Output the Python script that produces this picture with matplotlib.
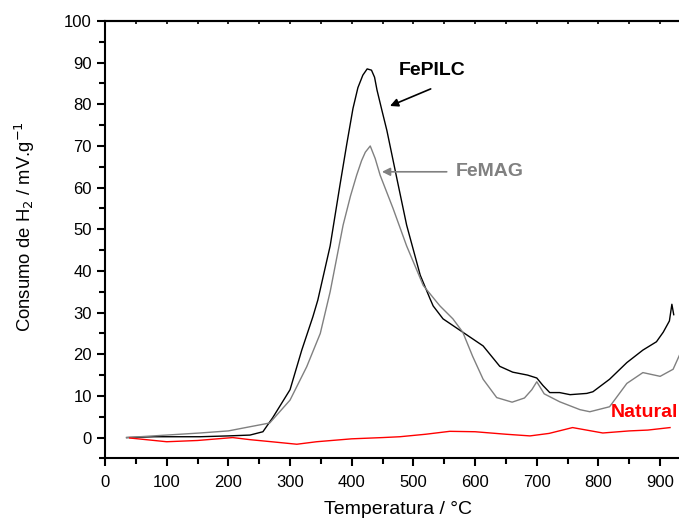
import matplotlib
matplotlib.use("Agg")
import matplotlib.pyplot as plt
from matplotlib.ticker import MultipleLocator
import numpy as np

plt.rcParams['font.family'] = ['Liberation Sans', 'DejaVu Sans']

# FePILC (black)
fepilc_T = [35, 80, 154, 200, 235, 256, 272, 300, 319, 337, 345, 365, 381, 392, 402, 410, 418, 425, 432,
            437, 441, 449, 457, 473, 489, 511, 527, 532, 548, 580, 613, 640, 661, 685, 700, 710, 721, 737,
            754, 781, 791, 818, 846, 872, 894, 905, 915, 919, 922]
fepilc_V = [0.0, 0.2, 0.2, 0.4, 0.6, 1.4, 4.8, 11.5, 21, 29, 33, 46, 60.7, 70.5, 79, 84, 87, 88.5, 88.2,
            86.5, 83.4, 78.5, 73.7, 62.3, 51, 39, 33.3, 31.6, 28.5, 25.3, 22, 17.1, 15.7, 15.0, 14.3, 12.5,
            10.8, 10.8, 10.3, 10.6, 11, 14, 18, 21, 23, 25.3, 28, 32, 29.5]

# FeMAG (gray)
femag_T = [35, 78, 154, 200, 235, 267, 300, 327, 349, 365, 386, 398, 408, 416, 422, 430, 438, 446, 467,
           489, 516, 538, 543, 564, 580, 596, 613, 635, 660, 680, 692, 700, 712, 737, 770, 786,
           818, 846, 872, 900, 921, 935]
femag_V = [0.0, 0.4, 1.1, 1.6, 2.6, 3.5, 9, 17, 25, 35, 51, 58, 63, 66.5, 68.5, 70, 67, 63, 55,
           46, 36.5, 32.5, 31.6, 28.5, 25.3, 19.5, 14, 9.6, 8.5, 9.5, 11.5, 13.4, 10.5, 8.6, 6.7, 6.2,
           7.4, 13, 15.6, 14.7, 16.4, 21]

# Natural (red)
natural_T = [40, 100, 150, 207, 235, 270, 311, 343, 400, 450, 478, 520, 559, 600, 650, 689,
             720, 758, 807, 850, 880, 916]
natural_V = [-0.1, -1.0, -0.7, 0.0, -0.5, -1.0, -1.6, -1.0, -0.3, 0.0, 0.2, 0.8, 1.5, 1.4, 0.8, 0.4,
             1.0, 2.4, 1.1, 1.6, 1.8, 2.4]

fig = plt.figure(figsize=(6.79, 5.21), dpi=100)
ax = fig.add_axes([105/679, 62.6/521, 586/679, 437.4/521])

ax.plot(fepilc_T, fepilc_V, color='black', lw=1.0)
ax.plot(femag_T, femag_V, color='#808080', lw=1.0)
ax.plot(natural_T, natural_V, color='red', lw=1.0)

ax.set_xlim(0, 950)
ax.set_ylim(-5, 100)
ax.xaxis.set_major_locator(MultipleLocator(100))
ax.xaxis.set_minor_locator(MultipleLocator(50))
ax.yaxis.set_major_locator(MultipleLocator(10))
ax.yaxis.set_minor_locator(MultipleLocator(5))
ax.tick_params(which='major', direction='out', length=6, width=1.5, labelsize=12, colors='black')
ax.tick_params(axis='x', which='major', pad=6)
ax.tick_params(which='minor', direction='out', length=4, width=1.5)
ax.spines['right'].set_visible(False)
for s in ['left', 'bottom', 'top']:
    ax.spines[s].set_linewidth(1.5)

sec = ax.secondary_xaxis('top')
sec.xaxis.set_major_locator(MultipleLocator(50))
sec.tick_params(direction='in', length=2, width=1.2, labeltop=False)
sec.spines['top'].set_linewidth(1.5)

ax.set_xlabel('Temperatura / °C', fontsize=14)
ax.xaxis.set_label_coords(293/586, -(510 - 458.4) / 437.4)
ax.xaxis.label.set_va('center')
ax.set_ylabel('Consumo de H$_2$ / mV.g$^{-1}$', fontsize=13.3)
ax.yaxis.set_label_coords(-(105 - 25) / 586, (458.4 - 227) / 437.4)
ax.yaxis.label.set_va('center')

ax.text(531, 88.0, 'FePILC', fontsize=14, fontweight='bold', color='black',
        ha='center', va='center')
ax.annotate('', xy=(462, 79.6), xytext=(528, 83.7),
            arrowprops=dict(arrowstyle='-|>', color='black', lw=1.2, mutation_scale=12,
                            shrinkA=0, shrinkB=0))
ax.annotate('', xy=(449, 63.8), xytext=(554, 63.8),
            arrowprops=dict(arrowstyle='-|>', color='#808080', lw=1.2, mutation_scale=12,
                            shrinkA=0, shrinkB=0))
ax.text(569, 63.8, 'FeMAG', fontsize=14, fontweight='bold', color='#808080',
        ha='left', va='center')
ax.text(820, 6.0, 'Natural', fontsize=14, fontweight='bold', color='red', ha='left', va='center')

fig.savefig('out.png', dpi=100)
